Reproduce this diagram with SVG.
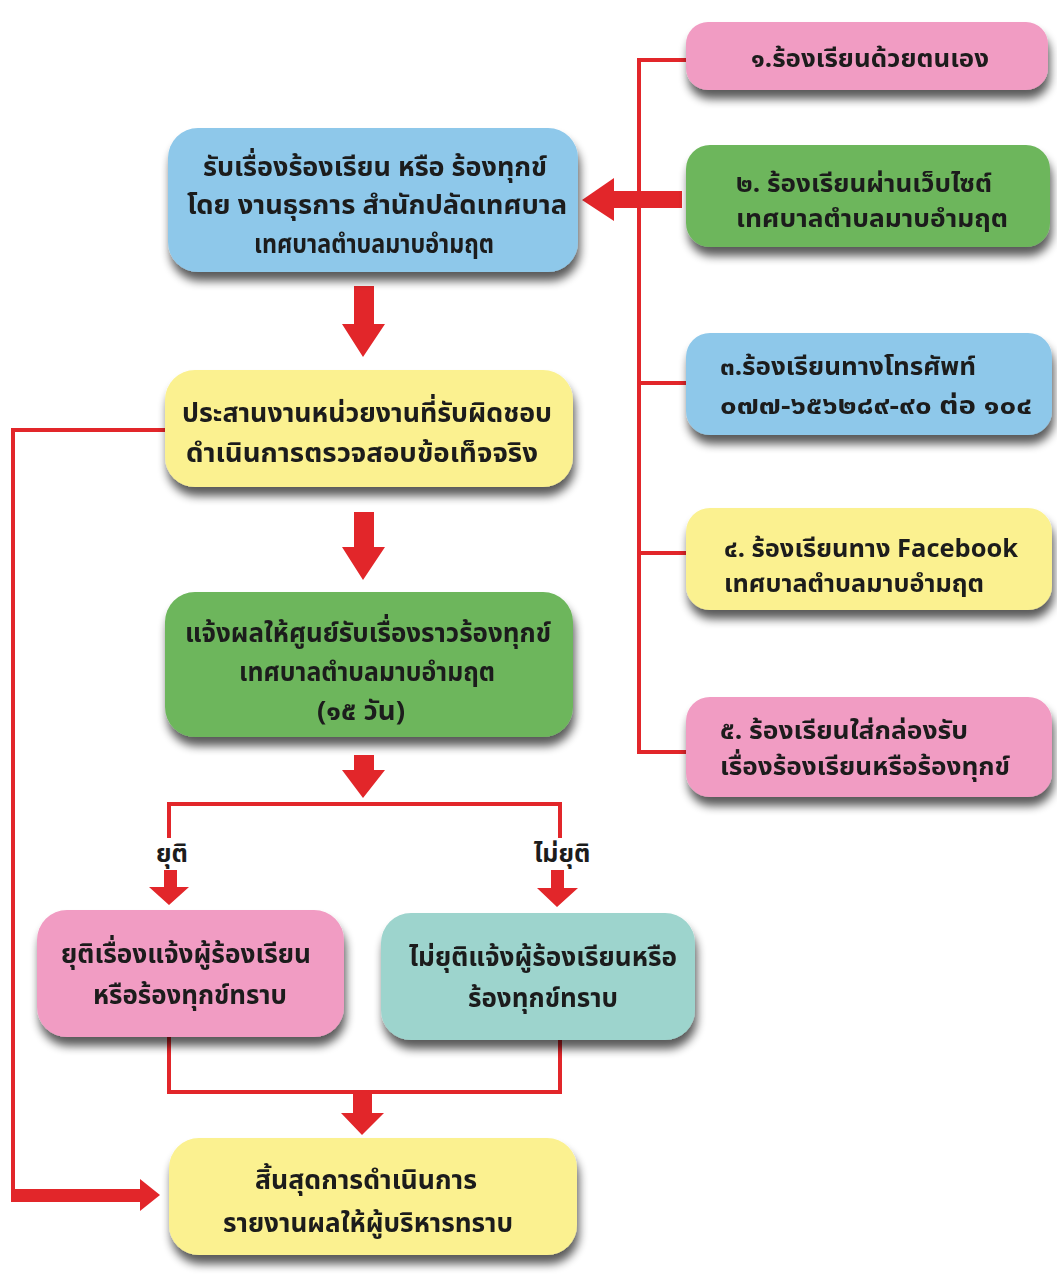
<svg xmlns="http://www.w3.org/2000/svg" width="1057" height="1282" viewBox="0 0 1057 1282">
<defs>
<filter id="sh" x="-10%" y="-20%" width="120%" height="160%">
<feGaussianBlur in="SourceAlpha" stdDeviation="5"/>
<feOffset dx="2" dy="9" result="b"/>
<feComponentTransfer><feFuncA type="linear" slope="0.65"/></feComponentTransfer>
<feMerge><feMergeNode/><feMergeNode in="SourceGraphic"/></feMerge>
</filter>
<style>
.t{font-family:"Noto Sans Thai","Noto Sans","DejaVu Sans",sans-serif;font-weight:bold;fill:#1c1c1c;font-size:27px}
.s{font-size:25px}
.c{text-anchor:middle}
.ln{stroke:#e2262a;stroke-width:4;fill:none}
.ar{fill:#e2262a}
.pink{fill:#f19cc3}.green{fill:#6db65c}.blue{fill:#8ec8ea}.yellow{fill:#fbf190}.teal{fill:#9dd4cd}
</style>
</defs>
<rect width="1057" height="1282" fill="#ffffff"/>
<g id="connectors">
<path class="ln" d="M639 60 V752 M637 60 H686 M637 383 H686 M637 553 H686 M637 752 H686" stroke-width="5"/>
<polygon class="ar" points="682,191 614,191 614,178 582,200 614,221 614,208 682,208"/>
<polygon class="ar" points="354,286 374,286 374,324 385,324 363,357 342,324 354,324"/>
<path class="ln" d="M166 430 H13 V1196"/>
<polygon class="ar" points="11,1189 140,1189 140,1179 160,1195 140,1211 140,1202 11,1202"/>
<polygon class="ar" points="354,512 374,512 374,547 385,547 363,580 342,547 354,547"/>
<polygon class="ar" points="354,755 374,755 374,770 385,770 363,798 342,770 354,770"/>
<path class="ln" d="M169 838 V804 H560 V838"/>
<polygon class="ar" points="164,870 177,870 177,887 189,887 169,905 149,887 164,887"/>
<polygon class="ar" points="551,870 564,870 564,888 578,888 557,907 537,888 551,888"/>
<path class="ln" d="M169 1037 V1092 H560 V1040"/>
<polygon class="ar" points="353,1092 372,1092 372,1113 384,1113 362,1135 341,1113 353,1113"/>
<text class="t s c" x="172" y="862">ยุติ</text>
<text class="t s c" x="562" y="862">ไม่ยุติ</text>
</g>
<g id="n1" filter="url(#sh)">
<rect class="pink" x="686" y="22" width="362" height="68" rx="22"/>
<text class="t s" x="751" y="67" textLength="238" lengthAdjust="spacingAndGlyphs">๑.ร้องเรียนด้วยตนเอง</text>
</g>
<g id="n2" filter="url(#sh)">
<rect class="green" x="686" y="145" width="364" height="102" rx="24"/>
<text class="t s" x="736" y="192" textLength="256" lengthAdjust="spacingAndGlyphs">๒. ร้องเรียนผ่านเว็บไซต์</text>
<text class="t s" x="736" y="227" textLength="272" lengthAdjust="spacingAndGlyphs">เทศบาลตำบลมาบอำมฤต</text>
</g>
<g id="n3" filter="url(#sh)">
<rect class="blue" x="686" y="333" width="366" height="102" rx="24"/>
<text class="t s" x="720" y="375" textLength="256" lengthAdjust="spacingAndGlyphs">๓.ร้องเรียนทางโทรศัพท์</text>
<text class="t s" x="720" y="414" textLength="312" lengthAdjust="spacingAndGlyphs">๐๗๗-๖๕๖๒๘๙-๙๐ ต่อ ๑๐๔</text>
</g>
<g id="n4" filter="url(#sh)">
<rect class="yellow" x="686" y="508" width="366" height="102" rx="24"/>
<text class="t s" x="724" y="557" textLength="294" lengthAdjust="spacingAndGlyphs">๔. ร้องเรียนทาง Facebook</text>
<text class="t s" x="724" y="592" textLength="260" lengthAdjust="spacingAndGlyphs">เทศบาลตำบลมาบอำมฤต</text>
</g>
<g id="n5" filter="url(#sh)">
<rect class="pink" x="686" y="697" width="366" height="100" rx="24"/>
<text class="t s" x="720" y="739" textLength="248" lengthAdjust="spacingAndGlyphs">๕. ร้องเรียนใส่กล่องรับ</text>
<text class="t s" x="720" y="775" textLength="290" lengthAdjust="spacingAndGlyphs">เรื่องร้องเรียนหรือร้องทุกข์</text>
</g>
<g id="main" filter="url(#sh)">
<rect class="blue" x="168" y="128" width="410" height="144" rx="30"/>
<text class="t c" x="375" y="176" textLength="344" lengthAdjust="spacingAndGlyphs">รับเรื่องร้องเรียน หรือ ร้องทุกข์</text>
<text class="t c" x="377" y="214" textLength="380" lengthAdjust="spacingAndGlyphs">โดย งานธุรการ สำนักปลัดเทศบาล</text>
<text class="t c" x="374" y="253" textLength="240" lengthAdjust="spacingAndGlyphs">เทศบาลตำบลมาบอำมฤต</text>
</g>
<g id="coord" filter="url(#sh)">
<rect class="yellow" x="165" y="370" width="408" height="117" rx="30"/>
<text class="t c" x="367" y="422" textLength="370" lengthAdjust="spacingAndGlyphs">ประสานงานหน่วยงานที่รับผิดชอบ</text>
<text class="t c" x="362" y="462" textLength="352" lengthAdjust="spacingAndGlyphs">ดำเนินการตรวจสอบข้อเท็จจริง</text>
</g>
<g id="notify" filter="url(#sh)">
<rect class="green" x="165" y="592" width="408" height="145" rx="30"/>
<text class="t c" x="368" y="642" textLength="366" lengthAdjust="spacingAndGlyphs">แจ้งผลให้ศูนย์รับเรื่องราวร้องทุกข์</text>
<text class="t c" x="367" y="681" textLength="256" lengthAdjust="spacingAndGlyphs">เทศบาลตำบลมาบอำมฤต</text>
<text class="t c" x="361" y="720" textLength="88" lengthAdjust="spacingAndGlyphs">(๑๕ วัน)</text>
</g>
<g id="done" filter="url(#sh)">
<rect class="pink" x="37" y="910" width="307" height="127" rx="30"/>
<text class="t c" x="186" y="963" textLength="250" lengthAdjust="spacingAndGlyphs">ยุติเรื่องแจ้งผู้ร้องเรียน</text>
<text class="t c" x="190" y="1004" textLength="194" lengthAdjust="spacingAndGlyphs">หรือร้องทุกข์ทราบ</text>
</g>
<g id="notdone" filter="url(#sh)">
<rect class="teal" x="381" y="913" width="314" height="127" rx="30"/>
<text class="t c" x="543" y="966" textLength="268" lengthAdjust="spacingAndGlyphs">ไม่ยุติแจ้งผู้ร้องเรียนหรือ</text>
<text class="t c" x="543" y="1007" textLength="150" lengthAdjust="spacingAndGlyphs">ร้องทุกข์ทราบ</text>
</g>
<g id="end" filter="url(#sh)">
<rect class="yellow" x="169" y="1138" width="408" height="117" rx="30"/>
<text class="t c" x="366" y="1189" textLength="222" lengthAdjust="spacingAndGlyphs">สิ้นสุดการดำเนินการ</text>
<text class="t c" x="368" y="1232" textLength="290" lengthAdjust="spacingAndGlyphs">รายงานผลให้ผู้บริหารทราบ</text>
</g>
</svg>
